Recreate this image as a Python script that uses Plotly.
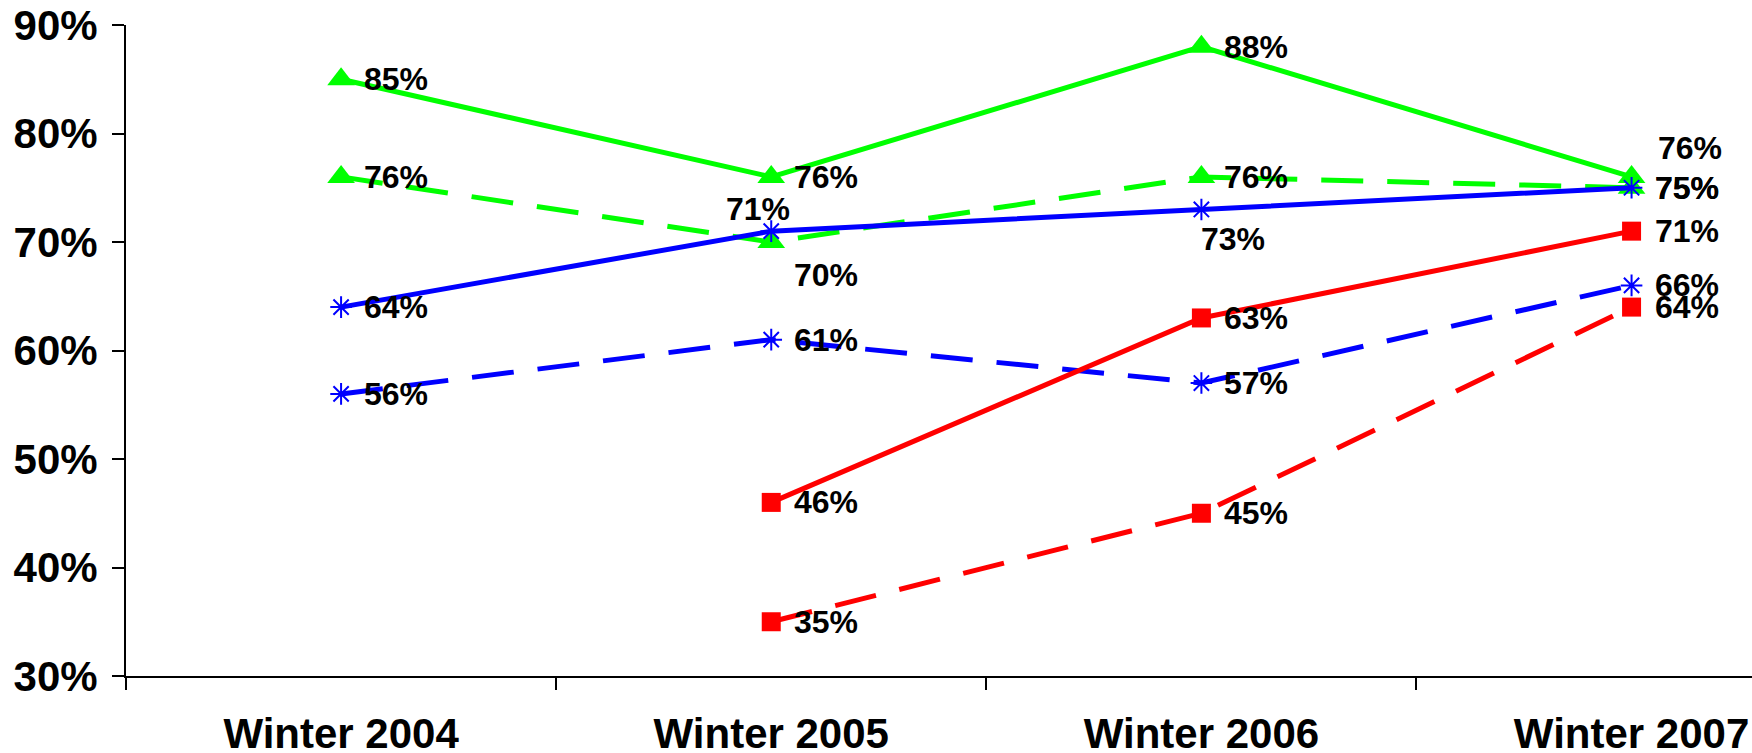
import plotly.graph_objects as go

# Survey seasons
seasons = ["Winter 2004", "Winter 2005", "Winter 2006", "Winter 2007"]

# Percent values per series (None = no survey that season)
green_solid = [85, 76, 88, 76]
green_dashed = [76, 70, 76, 75]
blue_solid = [64, 71, 73, 75]
blue_dashed = [56, 61, 57, 66]
red_solid = [None, 46, 63, 71]
red_dashed = [None, 35, 45, 64]

y_ticks = [30, 40, 50, 60, 70, 80, 90]

FONT = "Liberation Sans, Arial, sans-serif"

series = [
    # name, values, colour, dash, marker symbol, marker size
    ("green_solid", green_solid, "#00FF00", "solid", "triangle-up", 24),
    ("green_dashed", green_dashed, "#00FF00", "42px,24px", "triangle-up", 24),
    ("blue_solid", blue_solid, "#0000FF", "solid", "asterisk-open", 18),
    ("blue_dashed", blue_dashed, "#0000FF", "42px,24px", "asterisk-open", 18),
    ("red_solid", red_solid, "#FF0000", "solid", "square", 19),
    ("red_dashed", red_dashed, "#FF0000", "42px,24px", "square", 19),
]

# Label placement tweaks: (series, season index) -> (xanchor, xshift, yshift)
label_tweaks = {
    ("green_dashed", 1): ("left", 21, -33),
    ("blue_solid", 1): ("center", -13, 22),
    ("blue_solid", 2): ("center", 32, -30),
    ("green_solid", 3): ("left", 24, 29),
}

fig = go.Figure()
annotations = []

for name, vals, colour, dash, symbol, msize in series:
    is_ast = symbol.startswith("asterisk")
    fig.add_trace(go.Scatter(
        x=seasons, y=vals, mode="lines+markers", name=name,
        connectgaps=False,
        line=dict(color=colour, width=5, dash=dash),
        marker=dict(
            symbol=symbol, size=msize, color=colour,
            line=dict(color=colour, width=2 if is_ast else 0),
        ),
        showlegend=False,
    ))
    for i, v in enumerate(vals):
        if v is None:
            continue
        xanchor, xshift, yshift = label_tweaks.get((name, i), ("left", 21, 0))
        annotations.append(dict(
            x=seasons[i], y=v, xref="x", yref="y",
            text=f"{v}%", showarrow=False,
            xanchor=xanchor, yanchor="middle",
            xshift=xshift, yshift=yshift,
            font=dict(family=FONT, size=32, color="black", weight="bold"),
        ))

fig.update_layout(
    width=1752, height=753,
    margin=dict(l=126, r=0, t=25, b=77),
    paper_bgcolor="white", plot_bgcolor="white",
    annotations=annotations,
    font=dict(family=FONT, color="black"),
)

fig.update_xaxes(
    type="category", categoryorder="array", categoryarray=seasons,
    range=[-0.5, 3.28], automargin=False,
    showline=True, linecolor="black", linewidth=2,
    ticks="outside", tickson="boundaries", ticklen=12, tickwidth=1.5,
    tickcolor="black", showgrid=False, zeroline=False,
    ticklabelstandoff=20,
    tickfont=dict(family=FONT, size=42, color="black", weight="bold"),
)

fig.update_yaxes(
    range=[30, 90], tickmode="array", tickvals=y_ticks,
    ticktext=[f"{t}%" for t in y_ticks],
    automargin=False,
    showline=True, linecolor="black", linewidth=2,
    ticks="outside", ticklen=12, tickwidth=1.5, tickcolor="black",
    showgrid=False, zeroline=False,
    ticklabelstandoff=6,
    tickfont=dict(family=FONT, size=42, color="black", weight="bold"),
)

fig.write_html("out.html")
